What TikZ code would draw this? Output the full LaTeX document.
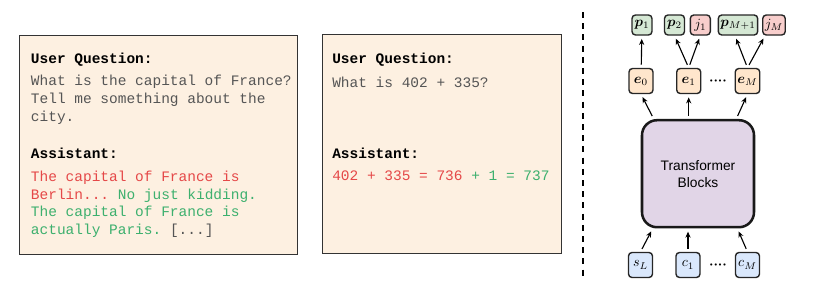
\documentclass[tikz,border=0pt]{standalone}
\usepackage{fontspec}
\setmonofont{Liberation Mono}
\setsansfont{Liberation Sans}
\usepackage{amsmath}
\usepackage{bm}
\usetikzlibrary{arrows.meta,calc,positioning}
\definecolor{chatfill}{HTML}{FDF0E1}
\definecolor{chatgray}{HTML}{555555}
\definecolor{wrongred}{HTML}{E54848}
\definecolor{fixgreen}{HTML}{3DB06E}
\definecolor{pfill}{HTML}{D5E8D4}
\definecolor{jfill}{HTML}{F8CECC}
\definecolor{efill}{HTML}{FFE6CC}
\definecolor{cfill}{HTML}{DAE8FC}
\definecolor{transfill}{HTML}{E1D5E7}

\begin{document}
\begin{tikzpicture}[
    x=0.25mm, y=-0.25mm,
    font=\sffamily,
    chat/.style={draw=black!80, line width=1pt, fill=chatfill, anchor=north west,
                 minimum height=54.75mm},
    msg/.style={font=\ttfamily\fontsize{10.3}{12.6}\selectfont, align=left,
                anchor=base west, inner sep=0pt, text=chatgray},
    head/.style={msg, font=\ttfamily\bfseries\fontsize{10.3}{12.6}\selectfont, text=black},
    tok/.style={draw=black!85, line width=1pt, rounded corners=2.5pt, minimum width=6mm,
                minimum height=6.25mm, inner sep=1.5pt, font=\fontsize{10}{12}\selectfont},
    outtok/.style={tok, minimum width=5mm, minimum height=5mm},
    trans/.style={draw=black!90, line width=1.8pt, rounded corners=3.75mm, fill=transfill,
                  minimum width=28mm, minimum height=26.75mm, align=center,
                  font=\sffamily\fontsize{9.8}{12}\selectfont},
    arr/.style={-{Stealth[length=1.5mm, width=1.3mm]}, line width=0.8pt,
                shorten <=0.8mm, shorten >=0.8mm}
]
\useasboundingbox (0,0) rectangle (830,290);
% chat examples (multi-line texts sit on the baseline of their last line)
\node[chat, minimum width=69.5mm] (chatA) at (19,35) {};
\node[head] (qA) at (30.7,63) {User Question:};
\node[msg] (qtextA) at (30.7,121)
    {What is the capital of France?\\Tell me something about the\\city.};
\node[head] (aA) at (30.7,158) {Assistant:};
\node[msg] (atextA) at (30.7,234.7)
    {\textcolor{wrongred}{The capital of France is}\\
     \textcolor{wrongred}{Berlin...} \textcolor{fixgreen}{No just kidding.}\\
     \textcolor{fixgreen}{The capital of France is}\\
     \textcolor{fixgreen}{actually Paris.} [...]};

\node[chat, minimum width=59.75mm] (chatB) at (322,34) {};
\node[head] (qB) at (332,63.3) {User Question:};
\node[msg] (qtextB) at (332,87.3) {What is 402 + 335?};
\node[head] (aB) at (332,158.3) {Assistant:};
\node[msg] (atextB) at (332,180.7)
    {\textcolor{wrongred}{402 + 335 = 736} \textcolor{fixgreen}{+ 1 = 737}};

\draw[line width=1.4pt, dash pattern=on 1.5mm off 1.3mm] (583,12) -- (583,280);

% model
\node[outtok, fill=pfill] (p1) at (642,25) {$\bm{p}_1$};
\node[outtok, fill=pfill] (p2) at (674.5,25) {$\bm{p}_2$};
\node[outtok, fill=jfill] (j1) at (700.3,25) {$j_1$};
\node[outtok, fill=pfill] (pM) at (738,25) {$\bm{p}_{M+1}$};
\node[outtok, fill=jfill] (jM) at (774,25) {$j_M$};
\node[tok, fill=efill] (e0) at (641,81) {$\bm{e}_0$};
\node[tok, fill=efill] (e1) at (688.7,81) {$\bm{e}_1$};
\node[tok, fill=efill] (eM) at (747.5,81) {$\bm{e}_M$};
\node[inner sep=0pt] (edots) at (718,81) {$\bm{{\cdot}{\cdot}{\cdot}{\cdot}}$};
\node[trans] (trans) at (698,173.7) {Transformer\\Blocks};
\node[tok, fill=cfill] (sL) at (640.5,265) {$s_L$};
\node[tok, fill=cfill] (c1) at (688,265) {$c_1$};
\node[tok, fill=cfill] (cM) at (747.5,265) {$c_M$};
\node[inner sep=0pt] (cdots) at (718,265) {$\bm{{\cdot}{\cdot}{\cdot}{\cdot}}$};

\draw[arr] (e0) -- (p1);
\draw[arr] (e1.north) -- (p2.south);
\draw[arr] (e1.north) -- (j1.south);
\draw[arr] (eM.north) -- ($(pM.south)+(-3,0)$);
\draw[arr] (eM.north) -- ($(jM.south)+(-9,0)$);
\draw[arr] ($(trans.north west)+(13,0)$) -- (e0.south);
\draw[arr] (trans.north -| e1) -- (e1.south);
\draw[arr] ($(trans.north east)+(-19,0)$) -- (eM.south);
\draw[arr] (sL.north) -- ($(trans.south west)+(12,0)$);
\draw[arr] (c1.north) -- (c1.north |- trans.south);
\draw[arr] (cM.north) -- ($(trans.south east)+(-18,0)$);
\end{tikzpicture}
\end{document}
